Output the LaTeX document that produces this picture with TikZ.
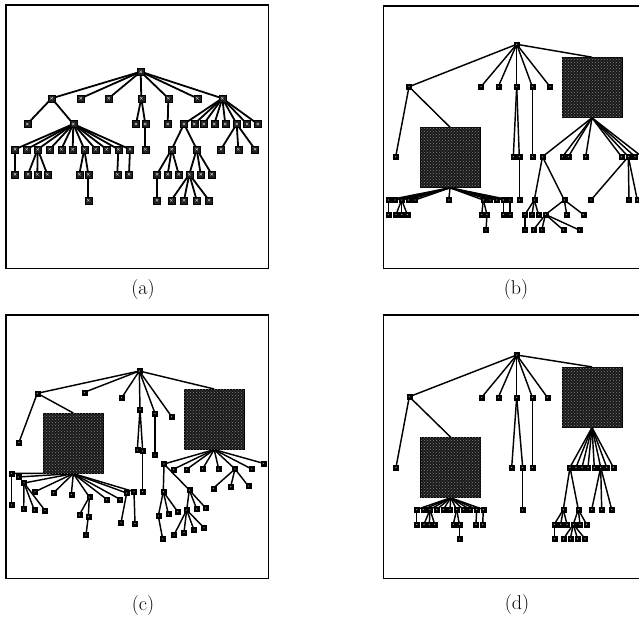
\documentclass[tikz,border=0pt]{standalone}
\usetikzlibrary{backgrounds,patterns}
\begin{document}
\begin{tikzpicture}[x=1pt,y=-1pt,
  an/.style={draw=black,line width=0.5pt,fill=black!88,minimum size=7pt,inner sep=0pt,
    path picture={\draw[black!25,line width=0.5pt] ([shift={(-1.2pt,-1.2pt)}]path picture bounding box.center) -- ([shift={(1.2pt,1.2pt)}]path picture bounding box.center)
      ([shift={(-1.2pt,1.2pt)}]path picture bounding box.center) -- ([shift={(1.2pt,-1.2pt)}]path picture bounding box.center);}},
  sn/.style={draw=black,line width=0.4pt,fill=black,minimum size=5pt,inner sep=0pt,
    path picture={\fill[black!40] (path picture bounding box.center) circle (0.7pt);}},
  big/.style={draw=black,line width=0.6pt,fill=black!90,minimum size=60pt,inner sep=0pt,
    postaction={pattern=crosshatch dots,pattern color=black!50}},
  aedge/.style={line width=1.8pt},
  edge/.style={line width=1.45pt},
  frame/.style={line width=1.4pt},
  lab/.style={font=\fontsize{20}{24}\selectfont,inner sep=0pt}]
\useasboundingbox (0,0) rectangle (639,619);
\clip (0,0) rectangle (639,619);
% frames
\draw[frame] (6,5) rectangle (268.3,268.3);
\draw[frame] (383.3,6) rectangle (645.6,268.3);
\draw[frame] (6,315) rectangle (268.3,578.3);
\draw[frame] (383.3,315) rectangle (645.6,578.3);
% labels
\node[lab] (la) at (143,290) {(a)};
\node[lab] (lb) at (516,290) {(b)};
\node[lab] (lc) at (143,605) {(c)};
\node[lab] (ld) at (517,604) {(d)};
% ---------------- panel (a)
\foreach \n/\x/\y in {aR/140.7/71.7,
  aA1/51.7/98.3,aA2/80.7/98.3,aA3/108.7/98.3,aA4/141.3/98.3,aA5/168.3/98.3,aA6/197.3/98.3,aA7/222.3/98.3,
  aB1/27.3/124,aB2/73.3/124,aB3/136/124,aB4/145.3/124,aB5/167.7/124,aB6/184/124,aB7/194.3/124,aB8/203.7/124,
  aB9/214.3/124,aB10/225.3/124,aB11/236.7/124,aB12/247/124,aB13/257.7/124,
  aC1/15/149.3,aC2/26.7/149.3,aC3/37.7/149.3,aC4/49.7/149.3,aC5/61.3/149.3,aC6/72.7/149.3,aC7/84.3/149.3,
  aC8/95.7/149.3,aC9/106.7/149.3,aC10/118.3/149.3,aC11/130/149.3,aC12/145.3/149.3,aC13/171.7/149.3,
  aC14/196.7/149.3,aC15/221/149.3,aC16/238.3/149.3,aC17/255/149.3,
  aD1/15/174.3,aD2/28/174.3,aD3/37.3/174.3,aD4/47.3/174.3,aD5/79.3/174.3,aD6/88.3/174.3,aD7/117.3/174.3,
  aD8/129/174.3,aD9/157/174.3,aD10/167.7/174.3,aD11/178.7/174.3,aD12/189.3/174.3,aD13/200.7/174.3,aD14/211.7/174.3,
  aE1/88.3/200.3,aE2/157/200.3,aE3/171.3/200.3,aE4/184/200.3,aE5/196.7/200.3,aE6/209/200.3}
  \node[an] (\n) at (\x,\y) {};
\begin{pgfonlayer}{background}
\foreach \p/\c in {aR/aA1,aR/aA2,aR/aA3,aR/aA4,aR/aA5,aR/aA6,aR/aA7,
  aA1/aB1,aA1/aB2,aA4/aB3,aA4/aB4,aA5/aB5,
  aA7/aB6,aA7/aB7,aA7/aB8,aA7/aB9,aA7/aB10,aA7/aB11,aA7/aB12,aA7/aB13,
  aB2/aC1,aB2/aC2,aB2/aC3,aB2/aC4,aB2/aC5,aB2/aC6,aB2/aC7,aB2/aC8,aB2/aC9,aB2/aC10,aB2/aC11,
  aB4/aC12,aB6/aC13,aB6/aC14,aB11/aC15,aB11/aC16,aB11/aC17,
  aC1/aD1,aC3/aD2,aC3/aD3,aC3/aD4,aC7/aD5,aC7/aD6,aC10/aD7,aC11/aD8,
  aC13/aD9,aC13/aD10,aC13/aD11,aC14/aD12,aC14/aD13,aC14/aD14,
  aD6/aE1,aD9/aE2,aD12/aE3,aD12/aE4,aD12/aE5,aD12/aE6}
  \draw[aedge] (\p.center) -- (\c.center);
\end{pgfonlayer}
% ---------------- panel (b)
\node[big] (bBR) at (592,87.5) {};
\node[big] (bBL) at (450,157.5) {};
\foreach \n/\x/\y in {bR/516.7/44.3,
  bP1/409/86.7,bQ1/481/86.7,bQ2/498.3/86.7,bQ3/516.7/86.7,bQ4/532.3/86.7,bQ5/550/86.7,
  bP2/395.7/156.7,bS1/513.3/156.7,bS2/519.3/156.7,bS3/519.3/200,bS4/532.3/156.7,
  bT1/542.5/156.7,bT2/562.5/156.7,bT3/568.3/156.7,bT4/585.7/156.7,bT5/621.5/156.7,bT6/628.3/156.7,bT7/635/156.7,bT8/642/156.7,
  bU1/534.3/200,bU2/564.3/200,bU3/591/200,bU4/629/200,bU5/637.3/200,
  bV1/525/214.5,bV2/532/214.5,bV3/538.5/214.5,bV4/545.5/214.5,bV5/566.7/214.5,bV6/583.3/214.5,
  bW1/525/230,bW2/533.3/230,bW3/541.7/230,bW4/563.3/230,bW5/579.3/230,
  bL1/388.3/200,bL2/395/200,bL3/401.7/200,bL4/408.3/200,bL5/415/200,bL6/448.8/200,
  bL7/483.3/200,bL8/490/200,bL9/496.7/200,bL10/503.3/200,bL11/510/200,
  bM1/388.3/214.5,bM2/396/214.5,bM3/401.7/214.5,bM4/407.3/214.5,bM5/481.7/214.5,bM6/487/214.5,
  bM7/503.3/214.5,bM8/510/214.5,bN1/486/230}
  \node[sn] (\n) at (\x,\y) {};
\begin{pgfonlayer}{background}
\foreach \p/\c in {bR/bP1,bR/bQ1,bR/bQ2,bR/bQ3,bR/bQ4,bR/bQ5,
  bP1/bP2,bQ3/bS1,bQ3/bS2,bS2/bS3,bQ4/bS4,
  bT1/bU1,bT1/bU2,bT6/bU3,bT6/bU4,bT6/bU5,
  bU1/bV1,bU1/bV2,bU1/bV3,bU2/bV4,bU2/bV5,bU2/bV6,
  bV1/bW1,bV4/bW2,bV4/bW3,bV4/bW4,bV4/bW5,
  bL1/bM1,bL3/bM2,bL3/bM3,bL3/bM4,bL7/bM5,bL7/bM6,bL10/bM7,bL11/bM8,bM6/bN1}
  \draw[edge] (\p.center) -- (\c.center);
\draw[edge] (bR.center) -- (bBR.north);
\draw[edge] (bP1.center) -- (bBL.north);
\foreach \c in {bT1,bT2,bT3,bT4,bT5,bT6,bT7,bT8}
  \draw[edge] (bBR.south) -- (\c.center);
\foreach \c in {bL1,bL2,bL3,bL4,bL5,bL6,bL7,bL8,bL9,bL10,bL11}
  \draw[edge] (bBL.south) -- (\c.center);
\end{pgfonlayer}
% ---------------- panel (c)
\node[big] (cBL) at (73.3,443.3) {};
\node[big] (cBR) at (214.2,419.3) {};
\foreach \n/\x/\y in {cR/139.3/371,
  cP1/37.3/393.3,cQ1/84.3/392.3,cQ2/121.7/397.7,cQ3/140/409.3,cQ4/155/413.3,cQ5/171.7/416.7,
  cP2/19/442.3,cS1/137.3/450,cS2/142.7/451,cS3/142.7/491.7,cS4/155/455,
  cL1/11.7/473.3,cL2/18.3/477,cL3/24/483,cL4/35/491.7,cL5/53.7/492.7,cL6/71.3/494.5,cL7/89.3/497,
  cL8/106.7/499.3,cL9/120/499.3,cL10/126.7/493,cL11/134/491.7,
  cM1/11.7/505,cM2/23.7/509,cM3/34.3/510,cM4/45/510.5,cM5/79.3/515,cM6/88.3/516.7,cM7/121/522.7,cM8/135/523.3,
  cN1/86/535,
  cT1/164/464,cT2/173.3/469.3,cT3/186.7/469.3,cT4/202.7/468.7,cT5/218.7/469,cT6/235/469,cT7/251.7/469,cT8/263.3/463.3,
  cU1/213.3/488.3,cU2/230.7/486.7,cU3/248.3/486,cU4/163.3/491.7,cU5/189.3/490,
  cV1/158.3/516,cV2/168.3/514,cV3/177.7/511.7,cV4/186.7/510,cV5/196.7/509,cV6/205.7/508,
  cW1/162.7/539,cW2/174/535,cW3/184/532.3,cW4/194/530,cW5/204/527.7}
  \node[sn] (\n) at (\x,\y) {};
\begin{pgfonlayer}{background}
\foreach \p/\c in {cR/cP1,cR/cQ1,cR/cQ2,cR/cQ3,cR/cQ4,cR/cQ5,
  cP1/cP2,cQ3/cS1,cQ3/cS2,cS2/cS3,cQ4/cS4,
  cL1/cM1,cL3/cM2,cL3/cM3,cL3/cM4,cL7/cM5,cL7/cM6,cM6/cN1,cL10/cM7,cL11/cM8,
  cT1/cU4,cT1/cU5,cT6/cU1,cT6/cU2,cT6/cU3,
  cU4/cV1,cU4/cV2,cU4/cV3,cU5/cV4,cU5/cV5,cU5/cV6,
  cV1/cW1,cV4/cW2,cV4/cW3,cV4/cW4,cV4/cW5}
  \draw[edge] (\p.center) -- (\c.center);
\draw[edge] (cR.center) -- (cBR.north);
\draw[edge] (cP1.center) -- (cBL.north);
\foreach \c in {cT1,cT2,cT3,cT4,cT5,cT6,cT7,cT8}
  \draw[edge] (cBR.south) -- (\c.center);
\foreach \c in {cL1,cL2,cL3,cL4,cL5,cL6,cL7,cL8,cL9,cL10,cL11}
  \draw[edge] (cBL.south) -- (\c.center);
\end{pgfonlayer}
% ---------------- panel (d)
\node[big] (dBL) at (450.7,467.5) {};
\node[big] (dBR) at (592,397.2) {};
\foreach \n/\x/\y in {dR/516.7/355,
  dP1/409.3/396.7,dQ1/481.7/397.3,dQ2/498.3/397.3,dQ3/516.7/397.3,dQ4/532.3/397.3,dQ5/547.3/397.3,
  dP2/396/467.3,dS1/511.7/467.3,dS2/522.7/467.3,dS3/522.7/510,dS4/532.3/467.3,
  dL1/416.7/509.5,dL2/423.3/509.5,dL3/430/509.5,dL4/436.7/509.5,dL5/443.3/509.5,dL6/450/509.5,
  dL7/456.7/509.5,dL8/463.3/509.5,dL9/470/509.5,dL10/476.7/509.5,dL11/483.3/509.5,
  dM1/416.7/524.3,dM2/424/524.3,dM3/429.3/524.3,dM4/434.7/524.3,dM5/453.3/524.3,dM6/459.3/524.3,
  dM7/476/524.3,dM8/482.7/524.3,dN1/459.3/539,
  dT1/570/467.3,dT2/576/467.3,dT3/582/467.3,dT4/588/467.3,dT5/594.3/467.3,dT6/600.7/467.3,dT7/606.7/467.3,dT8/613.3/467.3,
  dU1/563.3/509.5,dU2/578.3/509.5,dU3/591.7/509.5,dU4/601.7/509.5,dU5/611.7/509.5,
  dV1/554.3/524.3,dV2/560.7/524.3,dV3/567/524.3,dV4/573.3/524.3,dV5/580/524.3,dV6/586.5/524.3,
  dW1/554.3/538.8,dW2/563.5/538.8,dW3/570.3/538.8,dW4/577.5/538.8,dW5/585/538.8}
  \node[sn] (\n) at (\x,\y) {};
\begin{pgfonlayer}{background}
\foreach \p/\c in {dR/dP1,dR/dQ1,dR/dQ2,dR/dQ3,dR/dQ4,dR/dQ5,
  dP1/dP2,dQ3/dS1,dQ3/dS2,dS2/dS3,dQ4/dS4,
  dL1/dM1,dL3/dM2,dL3/dM3,dL3/dM4,dL7/dM5,dL7/dM6,dM6/dN1,dL10/dM7,dL11/dM8,
  dT1/dU1,dT1/dU2,dT6/dU3,dT6/dU4,dT6/dU5,
  dU1/dV1,dU1/dV2,dU1/dV3,dU2/dV4,dU2/dV5,dU2/dV6,
  dV1/dW1,dV4/dW2,dV4/dW3,dV4/dW4,dV4/dW5}
  \draw[edge] (\p.center) -- (\c.center);
\draw[edge] (dR.center) -- (dBR.north);
\draw[edge] (dP1.center) -- (dBL.north);
\foreach \c in {dT1,dT2,dT3,dT4,dT5,dT6,dT7,dT8}
  \draw[edge] (dBR.south) -- (\c.center);
\foreach \c in {dL1,dL2,dL3,dL4,dL5,dL6,dL7,dL8,dL9,dL10,dL11}
  \draw[edge] (dBL.south) -- (\c.center);
\end{pgfonlayer}
\end{tikzpicture}
\end{document}
